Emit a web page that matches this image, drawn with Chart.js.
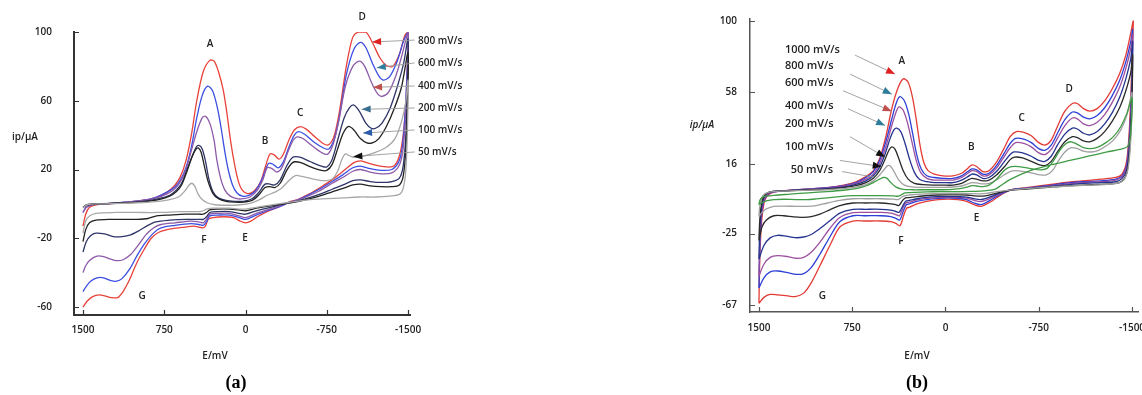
<!DOCTYPE html>
<html>
<head>
<meta charset="utf-8">
<script src="https://cdn.jsdelivr.net/npm/chart.js@4.4.1/dist/chart.umd.min.js"></script>
<style>
  body { margin: 0; background: #fff; width: 1142px; height: 395px; overflow: hidden; position: relative; }
  #wrapA { position: absolute; left: 0; top: 0; width: 560px; height: 395px; }
  #wrapB { position: absolute; left: 560px; top: 0; width: 582px; height: 395px; }
</style>
</head>
<body>
<div id="wrapA"><canvas id="chartA"></canvas></div>
<div id="wrapB"><canvas id="chartB"></canvas></div>
<script>
// ---- ticks ----
const xTicks = [1500, 750, 0, -750, -1500];
const aYTicks = [100, 60, 20, -20, -60];
const bYTicks = [100, 58, 16, -25, -67];

// ---- scan rates ----
const aRates = ['800 mV/s', '600 mV/s', '400 mV/s', '200 mV/s', '100 mV/s', '50 mV/s'];
const bRates = ['1000 mV/s', '800 mV/s', '600 mV/s', '400 mV/s', '200 mV/s', '100 mV/s', '50 mV/s'];

// ---- (a) voltammograms, [E mV, i uA], forward scan then return ----
const a800 = [[1500,-13],[1475,-6],[1440,-2],[1380,-0.5],[1250,0],[1100,1],[950,2],[820,4],[720,7],[650,11],[600,16],[550,25],[500,40],[450,60],[390,77],[330,83.5],[290,83],[250,77],[205,66],[170,52],[143,39],[110,26],[70,14],[30,8],[-20,6],[-80,7.5],[-140,13],[-185,22],[-225,29],[-265,28.5],[-310,26],[-350,29],[-400,37],[-450,43],[-505,45],[-560,43.5],[-640,39],[-720,35],[-770,34.5],[-820,40],[-870,55],[-930,80],[-990,97],[-1040,100],[-1110,100],[-1170,94],[-1240,85],[-1300,80.5],[-1360,80],[-1420,87],[-1470,98],[-1500,100],
  [-1495,85],[-1480,60],[-1455,40],[-1420,28],[-1370,22],[-1300,21.5],[-1200,22.5],[-1120,24],[-1060,25],[-1000,24],[-920,20],[-820,15],[-700,10],[-580,5.5],[-480,2.5],[-410,1.3],[-320,-1.5],[-200,-4.5],[-110,-7.5],[-50,-10],[0,-11],[50,-10],[110,-8],[200,-7.5],[300,-8],[345,-9],[370,-13],[395,-14],[430,-13.5],[480,-13],[560,-13.5],[680,-14.5],[800,-16.5],[870,-20],[940,-27],[1005,-34.5],[1070,-44],[1130,-51],[1180,-54.5],[1240,-54.5],[1300,-53.5],[1350,-53],[1410,-54],[1460,-56.5],[1500,-60]];
const a600 = [[1500,-5],[1470,-2],[1420,-0.5],[1300,0],[1100,1],[950,2],[820,4],[720,7],[650,10],[600,14],[550,21],[500,33],[450,50],[400,63],[350,68.5],[305,66],[260,56],[225,44],[190,30],[160,20],[120,11],[80,6.5],[30,4.5],[-30,5],[-90,7.5],[-150,14],[-212,23.5],[-255,23],[-300,21],[-345,24],[-400,33],[-450,40],[-490,42],[-545,40.5],[-630,36],[-720,32.5],[-770,32],[-820,38],[-870,52],[-930,75],[-1000,90],[-1060,94],[-1110,91],[-1170,82],[-1230,74.5],[-1275,72],[-1330,74],[-1400,83],[-1460,95],[-1500,100],
  [-1490,75],[-1470,50],[-1445,32],[-1410,24],[-1350,20],[-1250,19.5],[-1150,20.5],[-1060,22],[-990,21],[-900,17],[-800,13],[-680,8.5],[-560,4.5],[-470,2],[-410,1],[-320,-1.5],[-200,-4],[-100,-6.5],[0,-9],[60,-8],[150,-6.5],[250,-6.5],[330,-7],[360,-10.5],[390,-12.5],[430,-12],[500,-11.5],[650,-12.5],[780,-14],[850,-17],[930,-23],[1000,-30],[1070,-38],[1140,-43.5],[1190,-45],[1250,-44.5],[1310,-43],[1370,-43],[1430,-45],[1470,-48],[1500,-51]];
const a400 = [[1500,-5],[1470,-2],[1420,-0.5],[1300,0],[1100,1],[950,2],[820,3.5],[720,6],[650,9],[600,13],[550,20],[500,31],[450,42],[400,50],[370,51],[330,47],[290,37],[266,26],[230,15],[190,8],[140,4.5],[80,3],[20,3],[-40,4],[-110,8],[-160,14],[-200,21],[-245,20.5],[-290,18.5],[-335,21],[-390,30],[-440,37],[-475,39],[-530,38],[-620,33.5],[-710,29.5],[-760,29],[-810,35],[-860,48],[-920,68],[-990,80],[-1050,83],[-1100,80],[-1160,71],[-1220,64],[-1260,62.5],[-1320,65],[-1390,75],[-1450,88],[-1500,100],
  [-1495,75],[-1475,48],[-1450,30],[-1415,22],[-1350,18],[-1250,17.5],[-1150,18.5],[-1060,20],[-990,19],[-900,15.5],[-800,12],[-680,7.5],[-560,4],[-470,2],[-410,1],[-320,-1],[-200,-3.5],[-100,-5.5],[0,-8],[60,-7],[150,-5.5],[250,-5.5],[330,-6],[360,-9],[390,-11],[430,-10.5],[500,-10],[650,-11],[780,-12],[850,-14],[920,-18],[990,-24],[1060,-29.5],[1130,-32.5],[1190,-33],[1250,-32],[1320,-30.5],[1380,-30.5],[1440,-33],[1475,-36],[1500,-40]];
const a200 = [[1500,-2],[1460,-0.5],[1350,0],[1150,0.5],[950,1.5],[800,3],[700,5],[640,8],[590,12],[540,20],[490,28],[455,33],[430,34],[400,32],[370,25],[340,15],[300,7],[250,3.5],[180,2],[100,1.5],[20,1.5],[-60,3],[-120,6.5],[-180,11.5],[-225,11.5],[-270,11],[-320,14],[-380,22],[-425,26.5],[-457,27.5],[-510,27],[-600,24.5],[-700,22],[-750,21.5],[-800,26],[-850,37],[-910,50],[-960,56],[-1000,57.5],[-1050,54],[-1110,47],[-1160,44],[-1200,44],[-1260,47],[-1330,55],[-1400,68],[-1460,82],[-1500,96],
  [-1495,70],[-1480,40],[-1455,22],[-1420,15],[-1350,13],[-1250,12.5],[-1150,13],[-1060,14],[-990,13.5],[-900,11],[-800,8.5],[-680,5.5],[-560,3],[-470,1.5],[-410,0.8],[-320,-0.5],[-200,-2.5],[-100,-4],[0,-6],[60,-5.5],[150,-4.5],[250,-4.5],[330,-5],[360,-7.5],[390,-9],[430,-9],[550,-9],[700,-9.5],[830,-10.5],[900,-12.5],[980,-15.5],[1060,-18],[1140,-19],[1220,-19],[1300,-17.5],[1380,-17],[1430,-18.5],[1470,-22],[1500,-28]];
const a100 = [[1500,-2],[1460,-0.5],[1350,0],[1150,0.5],[950,1.2],[800,2.5],[700,4.5],[640,7],[590,11],[540,19],[490,28],[455,32],[435,32.5],[410,30],[380,22],[345,13],[300,6],[250,3],[180,1.5],[100,1],[20,1],[-60,2],[-120,5],[-180,9.5],[-225,10],[-270,9.5],[-320,12],[-380,19.5],[-425,23.5],[-455,24.5],[-510,24],[-600,21.5],[-700,19.5],[-750,19.5],[-800,23],[-850,32],[-900,41],[-947,45],[-1000,43],[-1060,38],[-1120,35.5],[-1170,35.5],[-1230,38],[-1300,45],[-1370,55],[-1440,68],[-1500,88],
  [-1495,60],[-1480,32],[-1455,16],[-1420,11],[-1350,10],[-1250,10],[-1150,10.5],[-1060,11.5],[-990,11],[-900,9],[-800,7],[-680,4.5],[-560,2.5],[-470,1.2],[-410,0.6],[-320,-0.3],[-200,-1.5],[-100,-2.5],[0,-4],[60,-3.5],[150,-3],[250,-3],[330,-3.5],[360,-5],[390,-6],[430,-6],[550,-6],[700,-6.5],[820,-7],[900,-8.5],[1000,-9],[1100,-9],[1250,-9],[1380,-9.5],[1440,-11],[1475,-15],[1500,-22]];
const a50 = [[1500,-2],[1460,-0.5],[1350,0],[1150,0.3],[950,0.8],[800,1.5],[700,2.5],[620,4],[560,7.5],[520,11],[497,12],[470,10.5],[440,6],[400,2.5],[350,0.5],[280,-0.5],[150,-0.8],[50,-0.5],[-50,0.5],[-130,2.5],[-200,5],[-260,6.5],[-330,9],[-400,13.5],[-460,16.5],[-520,16],[-620,14.5],[-720,13.5],[-800,14.5],[-850,19],[-890,26],[-920,29],[-960,28],[-1010,27],[-1100,28],[-1200,30],[-1300,33],[-1380,38],[-1440,48],[-1480,60],[-1500,72],
  [-1495,45],[-1480,20],[-1455,9],[-1420,5.5],[-1330,4.5],[-1200,4],[-1050,4],[-900,3.5],[-750,3],[-600,2.5],[-470,1.5],[-400,0.8],[-300,0],[-200,-1],[-100,-2],[0,-3],[60,-3],[150,-2.5],[300,-2.5],[360,-3],[390,-4],[430,-4.5],[600,-4.5],[800,-5],[1000,-5],[1200,-5],[1380,-5.5],[1440,-7],[1475,-10],[1500,-17]];

// ---- (b) voltammograms ----
const b1000 = [[1500,-66],[1495,-45],[1485,-25],[1470,-12],[1450,-5],[1410,-1.5],[1330,0],[1150,1],[950,2],[820,3.5],[720,5.5],[640,8.5],[580,12],[530,19],[480,32],[430,49],[380,61],[339,66],[300,64],[265,55],[235,42],[205,27],[175,17],[140,12],[90,10],[20,9],[-60,9],[-130,10.5],[-180,13.5],[-213,15.4],[-250,14.5],[-300,11.5],[-350,12],[-410,17],[-470,25],[-520,32],[-570,35],[-630,34.5],[-690,32.5],[-750,28.5],[-800,27],[-850,30],[-900,38],[-960,47],[-1020,51.5],[-1060,51.5],[-1110,48.5],[-1160,47],[-1220,48.5],[-1280,53],[-1340,60],[-1400,69],[-1450,80],[-1490,93],[-1510,100],
  [-1500,80],[-1490,55],[-1475,32],[-1455,17],[-1420,10],[-1370,8],[-1250,7],[-1100,6],[-950,5],[-800,3.5],[-650,2],[-520,0.6],[-440,-2.5],[-380,-5.5],[-320,-8],[-280,-9],[-230,-8],[-170,-6],[-100,-5],[-20,-4.7],[60,-5],[151,-6],[230,-7.5],[290,-9.5],[312,-10],[335,-14],[366,-20.4],[400,-19],[440,-18],[520,-17.6],[640,-17.6],[744,-17.6],[848,-21],[930,-32],[1009,-43.8],[1080,-54],[1140,-60],[1210,-62],[1280,-61.5],[1350,-61],[1411,-60.8],[1460,-62.5],[1500,-66]];
const b800 = [[1500,-57],[1495,-38],[1485,-20],[1470,-9],[1450,-4],[1410,-1],[1330,0],[1150,1],[950,2],[820,3.2],[720,5],[640,8],[580,11.5],[530,18],[480,29],[430,43],[395,52],[366,55.5],[330,53],[295,45],[262,33],[230,21],[195,13],[150,9],[90,8],[20,7.5],[-60,7.5],[-130,9],[-180,11.5],[-213,13],[-250,12.5],[-300,10],[-350,10.5],[-410,15],[-470,22],[-520,28],[-565,31],[-630,30.5],[-690,28.5],[-750,25],[-800,24],[-850,27],[-900,34],[-960,42],[-1020,46.5],[-1060,46],[-1110,43.5],[-1160,42.5],[-1220,44.5],[-1280,49],[-1340,56],[-1400,65],[-1450,76],[-1490,88],[-1505,95],
  [-1500,72],[-1490,48],[-1475,28],[-1455,15],[-1420,9],[-1370,7],[-1250,6],[-1100,5.5],[-950,4.5],[-800,3],[-650,1.8],[-520,0.6],[-440,-2],[-380,-4.5],[-320,-7],[-280,-8],[-230,-7],[-170,-5],[-100,-4.3],[-20,-4],[60,-4.3],[151,-5],[230,-6],[290,-7.5],[315,-8],[338,-11.5],[368,-17],[400,-16],[440,-15],[520,-14.5],[640,-14.5],[744,-14.5],[850,-18],[930,-27],[1009,-37],[1080,-45],[1140,-48.5],[1200,-49],[1270,-48],[1350,-47],[1410,-47.5],[1460,-51],[1500,-57]];
const b600 = [[1500,-50],[1495,-33],[1485,-18],[1470,-8],[1450,-3.5],[1410,-1],[1330,0],[1150,1],[950,1.8],[820,3],[720,4.5],[640,7],[580,10],[530,16],[480,26],[430,39],[395,47],[373,49.5],[340,47.5],[305,40],[270,29],[235,18],[200,11],[150,7.5],[90,6.5],[20,6.5],[-60,6.5],[-130,8],[-180,10.5],[-213,12],[-250,11.5],[-300,9],[-350,9.5],[-410,13.5],[-470,20],[-520,25.5],[-565,28.5],[-630,28],[-690,26],[-750,22.5],[-800,21.5],[-850,24.5],[-900,31],[-960,38.5],[-1020,43],[-1060,42.5],[-1110,39.5],[-1160,38.5],[-1220,40.5],[-1280,45],[-1340,52],[-1400,61],[-1450,72],[-1490,84],[-1505,92],
  [-1500,68],[-1490,45],[-1475,26],[-1455,14],[-1420,8.5],[-1370,6.5],[-1250,5.5],[-1100,5],[-950,4],[-800,2.8],[-650,1.6],[-520,0.6],[-440,-1.5],[-380,-3.5],[-320,-5.5],[-280,-6.2],[-230,-5.5],[-170,-4.2],[-100,-3.8],[-20,-3.6],[60,-3.8],[151,-4.3],[230,-5.2],[290,-6.5],[318,-7],[340,-9.5],[370,-14.5],[400,-13.8],[440,-13],[520,-12.5],[640,-12.5],[744,-12.7],[850,-15.5],[930,-22],[1009,-30],[1080,-36],[1140,-39],[1200,-39.5],[1270,-38.5],[1350,-38],[1410,-39],[1460,-43],[1500,-50]];
const b400 = [[1500,-40],[1495,-26],[1485,-14],[1470,-6],[1450,-2.5],[1410,-0.5],[1330,0],[1150,0.8],[950,1.5],[820,2.5],[720,4],[640,6],[580,9],[530,14],[485,22],[445,31],[415,36],[392,37],[360,35],[325,28],[290,19],[250,11],[210,7],[150,5.5],[90,5],[20,5],[-60,5],[-130,6.5],[-180,8.5],[-213,10],[-250,9.5],[-300,7.5],[-350,8],[-410,11.5],[-470,17],[-520,21.5],[-550,23],[-620,22.5],[-690,20.5],[-750,18],[-800,17.5],[-850,20.5],[-900,27],[-960,33.5],[-1020,37],[-1060,36.5],[-1110,34],[-1160,33],[-1220,35],[-1280,39.5],[-1340,46],[-1400,55],[-1450,66],[-1490,78],[-1505,88],
  [-1500,62],[-1490,40],[-1475,23],[-1455,12],[-1420,7.5],[-1370,5.5],[-1250,5],[-1100,4.5],[-950,3.5],[-800,2.5],[-650,1.5],[-520,0.6],[-440,-1],[-380,-2.8],[-320,-4.5],[-280,-5],[-230,-4.5],[-170,-3.5],[-100,-3.3],[-20,-3.2],[60,-3.3],[151,-3.7],[230,-4.5],[290,-5.5],[320,-6],[342,-8.5],[372,-12.5],[400,-12],[440,-11.2],[520,-10.7],[640,-10.7],[744,-10.8],[850,-13],[930,-17.5],[1009,-22],[1080,-25.5],[1140,-27],[1210,-27.4],[1280,-26.5],[1350,-26],[1410,-27.5],[1460,-32],[1500,-40]];
const b200 = [[1500,-29],[1495,-19],[1485,-10],[1470,-4.5],[1450,-2],[1410,-0.5],[1330,0],[1150,0.6],[950,1.2],[820,2],[720,3.2],[640,5],[580,7.5],[530,12],[490,18],[455,24],[432,26],[405,24.5],[375,19],[340,12],[300,7],[250,4.5],[180,3.8],[100,3.5],[20,3.5],[-60,3.5],[-130,4.5],[-180,6.5],[-213,7.5],[-250,7],[-300,6],[-350,6.5],[-410,9.5],[-470,14],[-520,18.5],[-555,20],[-620,19.5],[-690,17.5],[-750,15.5],[-800,15],[-850,17.5],[-900,23],[-960,29],[-1020,32],[-1060,31.5],[-1110,29.5],[-1160,29],[-1220,31],[-1280,35],[-1340,41],[-1400,49],[-1450,59],[-1490,70],[-1505,80],
  [-1500,55],[-1490,35],[-1475,19],[-1455,10],[-1420,6],[-1370,4.5],[-1250,4],[-1100,3.5],[-950,3],[-800,2],[-650,1.2],[-520,0.5],[-440,-0.6],[-380,-1.8],[-320,-2.8],[-280,-3],[-230,-2.8],[-170,-2.3],[-100,-2.2],[-20,-2.2],[60,-2.3],[151,-2.6],[230,-3.2],[290,-3.8],[322,-4],[345,-5.5],[375,-8.5],[400,-8],[440,-7.5],[520,-7],[640,-7],[744,-7],[850,-8.5],[930,-11],[1009,-13.5],[1080,-15],[1150,-15.4],[1220,-15.2],[1300,-14.5],[1380,-14.5],[1440,-17],[1475,-21],[1500,-29]];
const b100 = [[1500,-15],[1495,-10],[1485,-5.5],[1470,-3],[1450,-1.5],[1410,-0.5],[1330,0],[1150,0.4],[950,0.8],[820,1.4],[720,2.3],[640,3.8],[580,6],[530,9.5],[490,13],[465,15],[440,14.5],[410,11],[375,6.5],[330,3.5],[270,2.5],[180,2.2],[100,2.2],[20,2.2],[-60,2.4],[-130,3],[-180,4.2],[-213,5],[-250,4.8],[-300,4.2],[-350,4.6],[-410,6.5],[-470,9.5],[-520,11.5],[-560,12],[-630,11.5],[-700,10.5],[-760,9.5],[-810,9.5],[-860,12],[-910,18],[-960,23],[-1010,25.5],[-1060,25],[-1110,23.5],[-1170,23],[-1230,24],[-1290,26.5],[-1350,30],[-1410,36],[-1460,45],[-1500,58],
  [-1495,38],[-1482,22],[-1465,12],[-1440,7],[-1400,5],[-1300,4],[-1150,3.5],[-1000,3],[-850,2.5],[-700,1.7],[-560,0.9],[-480,0.3],[-400,-0.5],[-330,-1.3],[-280,-1.6],[-200,-1.5],[-100,-1.4],[0,-1.4],[100,-1.5],[200,-1.8],[290,-2.3],[325,-2.6],[350,-3.5],[380,-5],[420,-4.7],[520,-4.5],[640,-4.5],[744,-4.5],[850,-5.5],[950,-7],[1040,-8.5],[1120,-9],[1200,-9],[1300,-8.8],[1380,-9],[1440,-10.5],[1475,-12.5],[1500,-15]];
const b50 = [[1500,-8],[1495,-6],[1485,-4.5],[1470,-3.5],[1440,-3],[1380,-2.5],[1250,-1.8],[1100,-1],[950,-0.3],[820,0.5],[720,1.5],[640,3],[580,5],[530,7],[500,8],[470,7.5],[440,5],[400,2.5],[350,1.2],[270,0.8],[180,0.8],[100,0.8],[20,0.8],[-60,1],[-130,1.6],[-180,2.5],[-213,3.2],[-250,3],[-300,2.6],[-350,3.5],[-410,7],[-470,12],[-510,14],[-560,14.5],[-630,14],[-700,13],[-770,12.5],[-820,13.5],[-870,18],[-920,24],[-970,28],[-1010,29],[-1060,27.5],[-1110,25.5],[-1170,25],[-1230,26],[-1290,28.5],[-1350,32],[-1410,38],[-1460,46],[-1500,55],
  [-1495,40],[-1482,30],[-1460,26],[-1400,24.5],[-1300,23],[-1150,20.5],[-1000,18],[-850,15.5],[-700,12.5],[-580,9],[-500,6],[-440,3],[-400,1.2],[-330,0.3],[-280,0],[-200,-0.2],[-100,-0.3],[0,-0.3],[100,-0.4],[200,-0.6],[290,-0.9],[325,-1.1],[350,-2],[380,-3],[420,-2.8],[520,-2.7],[640,-2.7],[744,-2.7],[850,-3.2],[950,-4],[1040,-4.6],[1120,-5],[1200,-5],[1300,-4.8],[1380,-5],[1440,-5.8],[1475,-6.8],[1500,-8]];

// ---- peak letters (E, i) ----
const peakNames = ['A', 'B', 'C', 'D', 'E', 'F', 'G'];
const aPeakE = [327, -180, -504, -1076, 5, 383, 955];
const aPeakI = [93, 36.6, 53, 108.7, -19.8, -21, -53.5];
const bPeakE = [352, -207, -613, -995, -250, 358, 989];
const bPeakI = [76.7, 25.9, 43, 60, -15.8, -29.4, -62];

// ---- scan-rate labels: text anchor, leader start and arrow tip (E, i) ----
const aRateTextE = [-1592, -1592, -1592, -1592, -1592, -1592];
const aRateTextI = [94.8, 82, 68.6, 55.8, 43, 30.2];
const aLeadE = [-1560, -1560, -1560, -1560, -1560, -1560];
const aLeadI = [95.3, 82, 68.6, 55.8, 43, 30.2];
const aTipE = [-1168, -1211, -1177, -1072, -1085, -995];
const aTipI = [94.2, 79.2, 67.8, 55, 41.2, 27.5];

const bRateTextE = [1291, 1291, 1291, 1291, 1291, 1291, 1245];
const bRateTextI = [83.2, 73.5, 63.4, 50.4, 39.4, 25.8, 12.6];
const bLeadE = [728, 768, 824, 784, 768, 848, 832];
const bLeadI = [80, 68.8, 59, 48.4, 32, 18, 11.5];
const bTipE = [406, 432, 432, 486, 486, 513, 583];
const bTipI = [68.8, 57, 47, 38.6, 20, 14.4, 8.3];

// styles
const aColors = ['#e8423a', '#3b4fe0', '#8c5aa8', '#2f3568', '#222222', '#a8a8a8'];
const bColors = ['#e33b35', '#2d3fd6', '#9c4f9e', '#25338f', '#2a2a2a', '#a0a0a0', '#3f9b45'];
const aArrowColors = ['#e02020', '#2e7d9a', '#c0504d', '#3a6d8f', '#2a5caa', '#111'];
const bArrowColors = ['#e02020', '#2e7d9a', '#c0504d', '#2e7d9a', '#111', '#111', null];
const textFont = '600 10px "Open Sans", sans-serif';

function drawArrow(ctx, x0, y0, x1, y1, color) {
  const ang = Math.atan2(y1 - y0, x1 - x0);
  const L = 9, W = 3.5;
  const bx = x1 - L * Math.cos(ang), by = y1 - L * Math.sin(ang);
  ctx.beginPath();
  ctx.moveTo(x1, y1);
  ctx.lineTo(bx + W * Math.sin(ang), by - W * Math.cos(ang));
  ctx.lineTo(bx - W * Math.sin(ang), by + W * Math.cos(ang));
  ctx.closePath();
  ctx.fillStyle = color;
  ctx.fill();
}

function notesPlugin(n) {
  return {
    id: 'cvNotes',
    afterDraw(chart) {
      const ctx = chart.ctx, xs = chart.scales.x, ys = chart.scales.y;
      const ca = chart.chartArea;
      ctx.save();
      // inward tick marks
      ctx.strokeStyle = n.axisColor;
      ctx.lineWidth = 1.2;
      ctx.beginPath();
      xs.ticks.forEach(t => {
        const px = Math.round(xs.getPixelForValue(t.value)) + 0.5;
        ctx.moveTo(px, ca.bottom);
        ctx.lineTo(px, ca.bottom - 5);
      });
      ys.ticks.forEach(t => {
        const py = Math.round(ys.getPixelForValue(t.value)) + 0.5;
        ctx.moveTo(ca.left, py);
        ctx.lineTo(ca.left + 5, py);
      });
      ctx.stroke();

      // peak letters
      ctx.fillStyle = '#222';
      ctx.font = textFont;
      ctx.textAlign = 'center';
      ctx.textBaseline = 'middle';
      peakNames.forEach((p, k) => {
        ctx.fillText(p, xs.getPixelForValue(n.peakE[k]), ys.getPixelForValue(n.peakI[k]));
      });

      // leader lines + arrows
      n.rates.forEach((r, k) => {
        const x0 = xs.getPixelForValue(n.leadE[k]), y0 = ys.getPixelForValue(n.leadI[k]);
        const x1 = xs.getPixelForValue(n.tipE[k]), y1 = ys.getPixelForValue(n.tipI[k]);
        ctx.strokeStyle = '#9a9a9a';
        ctx.lineWidth = 0.9;
        ctx.beginPath();
        ctx.moveTo(x0, y0);
        ctx.lineTo(x1, y1);
        ctx.stroke();
        if (n.arrowColors[k]) drawArrow(ctx, x0, y0, x1, y1, n.arrowColors[k]);
      });

      // rate labels
      ctx.fillStyle = '#222';
      ctx.font = n.rateFont;
      ctx.textAlign = 'left';
      n.rates.forEach((r, k) => {
        ctx.fillText(r, xs.getPixelForValue(n.textE[k]), ys.getPixelForValue(n.textI[k]));
      });

      // axis titles and panel label
      ctx.textAlign = 'center';
      ctx.font = n.yTitleFont;
      ctx.fillText('ip/\u03bcA', n.yTitlePos[0], n.yTitlePos[1]);
      ctx.font = textFont;
      ctx.fillText('E/mV', n.xTitlePos[0], n.xTitlePos[1]);
      ctx.fillStyle = '#000';
      ctx.font = 'bold 18px "Liberation Serif", serif';
      ctx.fillText(n.panel, n.panelPos[0], n.panelPos[1]);
      ctx.restore();
    }
  };
}

function cvChart(id, curves, colors, s, n) {
  const datasets = curves.map((c, k) => ({
    data: c.map(p => ({ x: p[0], y: p[1] })),
    showLine: true,
    borderColor: colors[k],
    borderWidth: 1.3,
    pointRadius: 0,
    tension: 0.3,
    fill: false
  })).reverse(); // fastest scan drawn last (on top)

  return new Chart(document.getElementById(id), {
    type: 'scatter',
    data: { datasets: datasets },
    options: {
      responsive: true,
      maintainAspectRatio: false,
      animation: false,
      layout: { padding: s.padding },
      plugins: { legend: { display: false }, tooltip: { enabled: false } },
      scales: {
        x: {
          type: 'linear',
          reverse: true,
          min: s.xMin,
          max: s.xMax,
          afterBuildTicks: sc => { sc.ticks = xTicks.map(v => ({ value: v })); },
          afterFit: sc => { sc.height = s.xHeight; sc.paddingLeft = 0; sc.paddingRight = 0; },
          grid: { display: false, drawTicks: false },
          border: { display: true, color: s.axisColor, width: s.axisWidth },
          ticks: {
            autoSkip: false, maxRotation: 0, padding: s.xPad,
            color: '#222', font: { family: 'Open Sans', size: 10, weight: '600' },
            callback: v => String(v)
          }
        },
        y: {
          type: 'linear',
          min: s.yMin,
          max: s.yMax,
          afterBuildTicks: sc => { sc.ticks = s.yTicks.map(v => ({ value: v })); },
          afterFit: sc => { sc.width = s.yWidth; },
          grid: { display: false, drawTicks: false },
          border: { display: true, color: s.axisColor, width: s.axisWidth },
          ticks: {
            autoSkip: false, padding: s.yPad,
            color: '#222', font: { family: 'Open Sans', size: 10, weight: '600' },
            callback: v => String(v)
          }
        }
      }
    },
    plugins: [notesPlugin(n)]
  });
}

cvChart('chartA', [a800, a600, a400, a200, a100, a50], aColors,
  { padding: { top: 32, right: 150, left: 0, bottom: 0 }, xMin: -1518, xMax: 1583, yMin: -64.65, yMax: 100,
    yTicks: aYTicks, xHeight: 80, yWidth: 74, xPad: 9, yPad: 22, axisColor: '#333', axisWidth: 2 },
  { axisColor: '#333', peakE: aPeakE, peakI: aPeakI, rates: aRates, textE: aRateTextE, textI: aRateTextI,
    leadE: aLeadE, leadI: aLeadI, tipE: aTipE, tipI: aTipI, arrowColors: aArrowColors,
    rateFont: textFont, yTitleFont: textFont,
    yTitlePos: [25, 137], xTitlePos: [215, 356], panel: '(a)', panelPos: [236, 383] });

cvChart('chartB', [b1000, b800, b600, b400, b200, b100, b50], bColors,
  { padding: { top: 17, right: 4, left: 0, bottom: 0 }, xMin: -1548, xMax: 1572, yMin: -71.1, yMax: 101.2,
    yTicks: bYTicks, xHeight: 83, yWidth: 190, xPad: 10, yPad: 13, axisColor: '#555', axisWidth: 1.5 },
  { axisColor: '#555', peakE: bPeakE, peakI: bPeakI, rates: bRates, textE: bRateTextE, textI: bRateTextI,
    leadE: bLeadE, leadI: bLeadI, tipE: bTipE, tipI: bTipI, arrowColors: bArrowColors,
    rateFont: '600 11px "Open Sans", sans-serif', yTitleFont: 'italic 600 10px "Open Sans", sans-serif',
    yTitlePos: [142, 125], xTitlePos: [357, 356], panel: '(b)', panelPos: [357, 383] });
</script>
</body>
</html>
